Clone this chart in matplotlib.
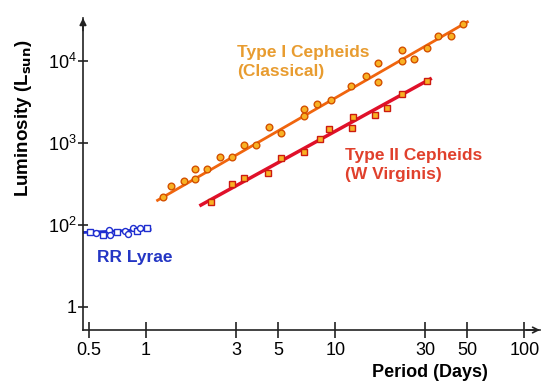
#!/usr/bin/env python3
# Period-luminosity relation for pulsating variable stars (schematic).

import matplotlib
matplotlib.use("Agg")
import matplotlib.pyplot as plt

# ---------------------------------------------------------------------------
# Data
# ---------------------------------------------------------------------------

type1_period = [1.23, 1.36, 1.58, 1.82, 1.82, 2.11, 2.46, 2.85, 3.31, 3.82,
                4.44, 5.14, 6.88, 6.88, 8.0, 9.55, 12.15, 14.5, 16.8, 16.8,
                22.6, 22.6, 26.2, 30.4, 35.1, 40.7, 47.4]
type1_lum    = [218, 301, 341, 482, 364, 478, 681, 681, 953, 953,
                1580, 1335, 2620, 2150, 3015, 3375, 5000, 6560, 9370, 5590,
                13620, 10000, 10670, 14410, 20350, 20350, 28500]
type1_fit_period = [1.15, 50]
type1_fit_lum    = [200, 30000]

type2_period = [2.21, 2.85, 3.30, 4.42, 5.20, 6.88, 8.26, 9.29, 12.3, 12.4,
                16.3, 18.8, 22.5, 30.4]
type2_lum    = [191, 312, 369, 434, 656, 777, 1110, 1494, 1537, 2057,
                2214, 2650, 3990, 5650]
type2_fit_period = [1.95, 31.8]
type2_fit_lum    = [175, 6030]

rr_period = [0.505, 0.544, 0.594, 0.639, 0.645, 0.70, 0.774, 0.806,
             0.857, 0.899, 0.93, 1.016]
rr_lum    = [81.5, 79.2, 76.5, 86.9, 75.0, 81.5, 85.2, 77.5,
             91.1, 83.8, 91.1, 91.1]
rr_marker = ["s", "o", "s", "o", "o", "s", "o", "o", "o", "s", "o", "s"]
rr_fit_period = [0.464, 1.05]
rr_fit_lum    = [81, 88]

x_ticks  = [0.5, 1, 3, 5, 10, 30, 50, 100]
x_labels = ["0.5", "1", "3", "5", "10", "30", "50", "100"]
y_ticks  = [10, 100, 1000, 10000]
y_labels = ["1", r"$\mathregular{10^2}$", r"$\mathregular{10^3}$", r"$\mathregular{10^4}$"]

# ---------------------------------------------------------------------------
# Style
# ---------------------------------------------------------------------------

plt.rcParams["font.family"] = ["Liberation Sans", "DejaVu Sans"]

AXIS_COLOR = "#222222"
MARKER_FILL = "#f8b224"
TYPE1_LINE, TYPE1_EDGE, TYPE1_TEXT = "#f0650e", "#d45000", "#e89c30"
TYPE2_LINE, TYPE2_EDGE, TYPE2_TEXT = "#e0102a", "#cc1a10", "#e0402c"
RR_LINE, RR_TEXT = "#1f2ed0", "#2436c4"
LABEL_SIZE = 12.5


def main():
    fig = plt.figure(figsize=(5.43, 3.91), dpi=100)
    ax = fig.add_axes([83 / 543, 61 / 391, 457 / 543, 312 / 391])
    ax.set_xscale("log")
    ax.set_yscale("log")
    ax.set_xlim(0.464, 121)
    ax.set_ylim(5.24, 33450)

    # Type I (classical) Cepheids
    ax.plot(type1_fit_period, type1_fit_lum, color=TYPE1_LINE, lw=2.0, zorder=2)
    ax.plot(type1_period, type1_lum, "o", ms=4.8, mfc=MARKER_FILL,
            mec=TYPE1_EDGE, mew=1.0, zorder=3)

    # Type II (W Virginis) Cepheids
    ax.plot(type2_fit_period, type2_fit_lum, color=TYPE2_LINE, lw=2.5, zorder=2)
    ax.plot(type2_period, type2_lum, "s", ms=4.3, mfc=MARKER_FILL,
            mec=TYPE2_EDGE, mew=1.0, zorder=3)

    # RR Lyrae
    ax.plot(rr_fit_period, rr_fit_lum, color=RR_LINE, lw=2.0, zorder=2)
    for p, l, m in zip(rr_period, rr_lum, rr_marker):
        ax.plot(p, l, m, ms=4.3, mfc="white", mec=RR_LINE, mew=1.0, zorder=3)

    # Labels
    ax.text(3.03, 9700, "Type I Cepheids\n(Classical)", color=TYPE1_TEXT,
            fontsize=LABEL_SIZE, fontweight="bold", ha="left", va="center",
            linespacing=1.35)
    ax.text(11.3, 540, "Type II Cepheids\n(W Virginis)", color=TYPE2_TEXT,
            fontsize=LABEL_SIZE, fontweight="bold", ha="left", va="center",
            linespacing=1.35)
    ax.text(0.55, 40.7, "RR Lyrae", color=RR_TEXT, fontsize=LABEL_SIZE,
            fontweight="bold", ha="left", va="center")

    # Axes: only left/bottom spines, with arrow heads
    for side in ("top", "right"):
        ax.spines[side].set_visible(False)
    for side in ("left", "bottom"):
        ax.spines[side].set_color(AXIS_COLOR)
        ax.spines[side].set_linewidth(1.2)
    ax.annotate("", xy=(1.0, 0), xytext=(0.97, 0), xycoords="axes fraction",
                arrowprops=dict(arrowstyle="->", color=AXIS_COLOR, lw=1.2,
                                shrinkA=0, shrinkB=0))
    ax.annotate("", xy=(0, 1.0), xytext=(0, 0.96), xycoords="axes fraction",
                arrowprops=dict(arrowstyle="-|>", color=AXIS_COLOR, lw=1.2,
                                shrinkA=0, shrinkB=0, mutation_scale=10))

    ax.set_xticks(x_ticks)
    ax.set_xticklabels(x_labels)
    ax.set_yticks(y_ticks)
    ax.set_yticklabels(y_labels)
    ax.minorticks_off()
    ax.tick_params(axis="x", direction="inout", length=11, width=1.2,
                   color=AXIS_COLOR, labelsize=13, pad=3)
    ax.tick_params(axis="y", direction="inout", length=7, width=1.2,
                   color=AXIS_COLOR, labelsize=13, pad=1)

    ax.set_ylabel(r"Luminosity (L$_{\mathregular{\mathbf{sun}}}$)", fontsize=13.5,
                  fontweight="bold")
    ax.yaxis.set_label_coords(-0.108, 0.68)
    ax.set_xlabel("Period (Days)", fontsize=13, fontweight="bold")
    ax.xaxis.set_label_coords(0.76, -0.11)

    fig.savefig("out.png", dpi=100)


if __name__ == "__main__":
    main()
